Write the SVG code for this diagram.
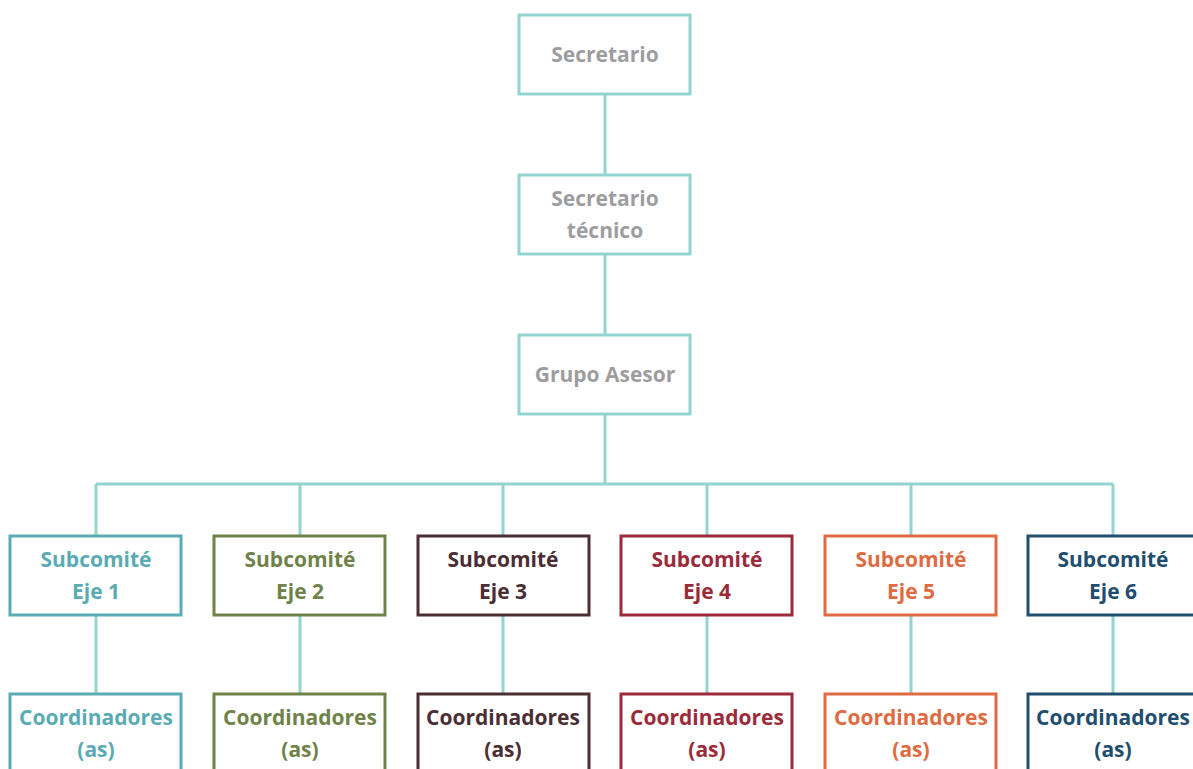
<svg xmlns="http://www.w3.org/2000/svg" width="1193" height="769" viewBox="0 0 1193 769">
<style>
.box{fill:#fff;stroke-width:3}
.top{stroke:#93d4d0}
.t{font-family:"Open Sans","Liberation Sans",sans-serif;font-weight:700;font-size:21px;text-anchor:middle}
.g{fill:#9d9d9f}
.c{stroke:#93d4d0;stroke-width:3;fill:none}
</style>
<rect width="1193" height="769" fill="#fff"/>
<g id="connectors">
<path class="c" d="M605 94V175M605 254V335M605 414V484M96 484H1113M96 484V536M300 484V536M503 484V536M707 484V536M911 484V536M1113 484V536M96 615V694M300 615V694M503 615V694M707 615V694M911 615V694M1113 615V694"/>
</g>
<g id="secretario">
<rect class="box top" x="519" y="15" width="171" height="79"/>
<text class="t g" x="605" y="62">Secretario</text>
</g>
<g id="secretario-tecnico">
<rect class="box top" x="519" y="175" width="171" height="79"/>
<text class="t g" x="605" y="206">Secretario</text>
<text class="t g" x="605" y="238">técnico</text>
</g>
<g id="grupo-asesor">
<rect class="box top" x="519" y="335" width="171" height="79"/>
<text class="t g" x="605" y="382">Grupo Asesor</text>
</g>
<g id="sub1">
<rect class="box" stroke="#5aabb4" x="10" y="536" width="171" height="79"/>
<text class="t" fill="#5aabb4" x="96" y="567">Subcomité</text>
<text class="t" fill="#5aabb4" x="96" y="599">Eje 1</text>
</g>
<g id="sub2">
<rect class="box" stroke="#6f8249" x="214" y="536" width="171" height="79"/>
<text class="t" fill="#6f8249" x="300" y="567">Subcomité</text>
<text class="t" fill="#6f8249" x="300" y="599">Eje 2</text>
</g>
<g id="sub3">
<rect class="box" stroke="#4a2e34" x="418" y="536" width="171" height="79"/>
<text class="t" fill="#4a2e34" x="503" y="567">Subcomité</text>
<text class="t" fill="#4a2e34" x="503" y="599">Eje 3</text>
</g>
<g id="sub4">
<rect class="box" stroke="#9b2b3a" x="621" y="536" width="171" height="79"/>
<text class="t" fill="#9b2b3a" x="707" y="567">Subcomité</text>
<text class="t" fill="#9b2b3a" x="707" y="599">Eje 4</text>
</g>
<g id="sub5">
<rect class="box" stroke="#de6b42" x="825" y="536" width="171" height="79"/>
<text class="t" fill="#de6b42" x="911" y="567">Subcomité</text>
<text class="t" fill="#de6b42" x="911" y="599">Eje 5</text>
</g>
<g id="sub6">
<rect class="box" stroke="#1f4e6e" x="1028" y="536" width="171" height="79"/>
<text class="t" fill="#1f4e6e" x="1113" y="567">Subcomité</text>
<text class="t" fill="#1f4e6e" x="1113" y="599">Eje 6</text>
</g>
<g id="coord1">
<rect class="box" stroke="#5aabb4" x="10" y="694" width="171" height="79"/>
<text class="t" fill="#5aabb4" x="96" y="725">Coordinadores</text>
<text class="t" fill="#5aabb4" x="96" y="757">(as)</text>
</g>
<g id="coord2">
<rect class="box" stroke="#6f8249" x="214" y="694" width="171" height="79"/>
<text class="t" fill="#6f8249" x="300" y="725">Coordinadores</text>
<text class="t" fill="#6f8249" x="300" y="757">(as)</text>
</g>
<g id="coord3">
<rect class="box" stroke="#4a2e34" x="418" y="694" width="171" height="79"/>
<text class="t" fill="#4a2e34" x="503" y="725">Coordinadores</text>
<text class="t" fill="#4a2e34" x="503" y="757">(as)</text>
</g>
<g id="coord4">
<rect class="box" stroke="#9b2b3a" x="621" y="694" width="171" height="79"/>
<text class="t" fill="#9b2b3a" x="707" y="725">Coordinadores</text>
<text class="t" fill="#9b2b3a" x="707" y="757">(as)</text>
</g>
<g id="coord5">
<rect class="box" stroke="#de6b42" x="825" y="694" width="171" height="79"/>
<text class="t" fill="#de6b42" x="911" y="725">Coordinadores</text>
<text class="t" fill="#de6b42" x="911" y="757">(as)</text>
</g>
<g id="coord6">
<rect class="box" stroke="#1f4e6e" x="1028" y="694" width="171" height="79"/>
<text class="t" fill="#1f4e6e" x="1113" y="725">Coordinadores</text>
<text class="t" fill="#1f4e6e" x="1113" y="757">(as)</text>
</g>
</svg>
